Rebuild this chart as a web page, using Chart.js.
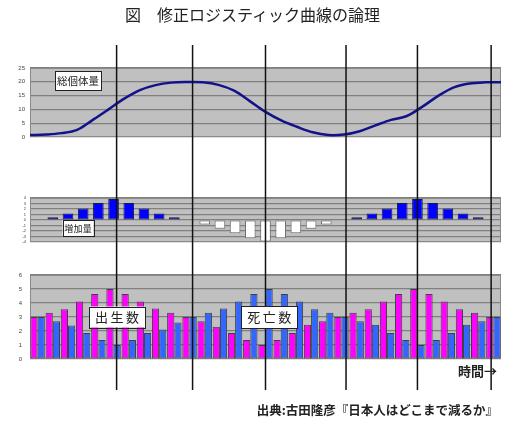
<!DOCTYPE html>
<html lang="ja">
<head>
<meta charset="utf-8">
<title>修正ロジスティック曲線の論理</title>
<script src="https://cdn.jsdelivr.net/npm/chart.js@4.4.1/dist/chart.umd.min.js"></script>
<style>
  html, body { margin: 0; padding: 0; background: #fff; }
  #wrap { position: relative; width: 505px; height: 421px; font-family: "Noto Sans CJK JP", sans-serif; color: #222; }
  canvas { position: absolute; left: 0; }
  #cTop { top: 0; }
  #cMid { top: 167px; }
  #cBot { top: 258px; }
  .txt { position: absolute; white-space: nowrap; }
  #title { left: 0; width: 505px; top: 4px; text-align: center; font-size: 16px; line-height: 20px; }
  #time { right: 8px; top: 363px; font-size: 13px; font-weight: bold; line-height: 16px; }
  #source { right: 7px; top: 402px; font-size: 12.5px; font-weight: bold; line-height: 16px; }
</style>
</head>
<body>
<div id="wrap">
  <canvas id="cTop" width="505" height="167"></canvas>
  <canvas id="cMid" width="505" height="91"></canvas>
  <canvas id="cBot" width="505" height="163"></canvas>
  <div id="title" class="txt">図　修正ロジスティック曲線の論理</div>
  <div id="time" class="txt">時間→</div>
  <div id="source" class="txt">出典:古田隆彦『日本人はどこまで減るか』</div>
</div>
<script>
// time steps along the horizontal axis
const periods = ['1', '2', '3', '4', '5', '6', '7', '8', '9', '10', '11', '12', '13', '14', '15', '16',
  '17', '18', '19', '20', '21', '22', '23', '24', '25', '26', '27', '28', '29', '30', '31'];

// 総個体量 (top panel)
const totalPopulation = [0.7, 0.9, 1.4, 2.6, 6.2, 10.0, 13.9, 17.0, 18.8, 19.7, 19.9, 19.8, 18.9, 16.8, 13.0, 9.1,
  6.0, 3.7, 1.7, 0.7, 0.9, 2.1, 4.2, 6.2, 7.6, 11.0, 14.9, 18.0, 19.4, 19.8, 19.8];

// 増加量 (middle panel)
const increase = [null, 0.5, 1.2, 2.1, 3.1, 3.8, 3.1, 2.1, 1.2, 0.5, null, -0.8, -1.6, -2.4, -3.3, -3.9,
  -3.3, -2.4, -1.6, -0.8, null, 0.5, 1.2, 2.1, 3.1, 3.8, 3.1, 2.1, 1.2, 0.5, null];

// 出生数 / 死亡数 (bottom panel)
const births = [3.0, 3.3, 3.55, 4.1, 4.65, 5.0, 4.65, 4.1, 3.6, 3.3, 3.0, 2.7, 2.3, 1.85, 1.35, 1.0,
  1.35, 1.85, 2.45, 2.7, 3.0, 3.3, 3.55, 4.1, 4.65, 5.0, 4.65, 4.1, 3.55, 3.3, 3.0];
const deaths = [3.0, 2.7, 2.4, 1.85, 1.35, 1.0, 1.35, 1.85, 2.1, 2.6, 3.0, 3.3, 3.6, 4.1, 4.65, 5.0,
  4.65, 4.1, 3.55, 3.3, 3.0, 2.7, 2.45, 1.85, 1.35, 1.0, 1.35, 1.85, 2.45, 2.7, 3.0];

// vertical phase lines (position on the period axis)
const phaseMarks = [5.2, 10.2, 15, 20.3, 25, 29.85];

const sideWidth = 30;
function fixWidth(scale) {
  scale.width = sideWidth;
}

const gridStyle = { color: '#808080', lineWidth: 1.2, drawTicks: false };

function valueAxis(min, max, step, fontSize, pad) {
  return {
    position: 'left', min: min, max: max,
    ticks: { stepSize: step, autoSkip: false, font: { family: 'Liberation Sans', size: fontSize }, color: '#444', padding: pad },
    grid: gridStyle,
    border: { display: false },
    afterFit: fixWidth
  };
}

// gray plot area, phase lines and boxed labels for one panel
function panelPlugin(cfg) {
  return {
    id: 'panel',
    beforeDraw(chart) {
      const { ctx, chartArea: a } = chart;
      ctx.save();
      ctx.fillStyle = '#c0c0c0';
      ctx.fillRect(a.left, a.top, a.right - a.left, a.bottom - a.top);
      ctx.restore();
    },
    beforeDatasetsDraw(chart) {
      const { ctx, chartArea: a } = chart;
      ctx.save();
      ctx.strokeStyle = '#8a8a8a';
      ctx.lineWidth = 1;
      ctx.strokeRect(a.left + 0.5, a.top + 0.5, a.right - a.left - 1, a.bottom - a.top - 1);
      ctx.restore();
    },
    afterDatasetsDraw(chart) {
      const { ctx, chartArea: a } = chart;
      const xs = chart.scales.x;
      const y0 = cfg.lineAbove == null ? 0 : a.top - cfg.lineAbove;
      const y1 = cfg.lineBelow == null ? chart.height : a.bottom + cfg.lineBelow;
      ctx.save();
      ctx.strokeStyle = '#111';
      ctx.lineWidth = 1.5;
      phaseMarks.forEach(m => {
        const px = xs.getPixelForValue(m);
        ctx.beginPath();
        ctx.moveTo(px, y0);
        ctx.lineTo(px, y1);
        ctx.stroke();
      });
      ctx.restore();
    },
    afterDraw(chart) {
      const { ctx } = chart;
      const xs = chart.scales.x;
      const ys = chart.scales.y;
      ctx.save();
      cfg.labels.forEach(lb => {
        const cx = xs.getPixelForValue(lb.x);
        const cy = ys.getPixelForValue(lb.y);
        ctx.fillStyle = '#fff';
        ctx.fillRect(cx - lb.w / 2, cy - lb.h / 2, lb.w, lb.h);
        ctx.strokeStyle = '#222';
        ctx.lineWidth = 1;
        ctx.strokeRect(Math.round(cx - lb.w / 2) + 0.5, Math.round(cy - lb.h / 2) + 0.5, lb.w, lb.h);
        ctx.fillStyle = '#222';
        ctx.font = lb.size + 'px "Noto Sans CJK JP"';
        ctx.textAlign = 'center';
        ctx.textBaseline = 'middle';
        const chars = Array.from(lb.text);
        chars.forEach((c, i) => {
          ctx.fillText(c, cx + (i - (chars.length - 1) / 2) * lb.step, cy + 0.5);
        });
      });
      ctx.restore();
    }
  };
}

function makePanel(canvasId, cfg) {
  return new Chart(document.getElementById(canvasId), {
    type: 'bar',
    data: { labels: periods, datasets: cfg.datasets },
    options: {
      responsive: false,
      animation: false,
      devicePixelRatio: 1,
      layout: { padding: cfg.padding },
      plugins: { legend: { display: false }, tooltip: { enabled: false } },
      scales: Object.assign({
        x: { type: 'category', offset: true, display: false },
        y: cfg.y
      }, cfg.extraScales || {})
    },
    plugins: [panelPlugin(cfg)]
  });
}

// top: 総個体量
makePanel('cTop', {
  padding: { top: 68, bottom: 30, left: 0, right: 4 },
  lineAbove: 23,
  lineBelow: null,
  y: valueAxis(0, 25, 5, 6, 5),
  extraScales: {
    xLine: { type: 'linear', axis: 'x', position: 'bottom', min: 0, max: 30, offset: false, display: false }
  },
  datasets: [{
    type: 'line',
    label: '総個体量',
    data: totalPopulation.map((v, i) => ({ x: i, y: v })),
    xAxisID: 'xLine',
    borderColor: '#12128a',
    borderWidth: 2.5,
    pointRadius: 0,
    tension: 0.35,
    fill: false
  }],
  labels: [{ text: '総個体量', x: 2.66, y: 20.3, w: 46, h: 19, size: 10.5, step: 10.5 }]
});

// middle: 増加量
makePanel('cMid', {
  padding: { top: 31, bottom: 16, left: 0, right: 4 },
  lineAbove: null,
  lineBelow: null,
  y: valueAxis(-4, 4, 1, 4, 4),
  datasets: [{
    label: '増加量',
    data: increase,
    barPercentage: 0.7,
    categoryPercentage: 1,
    backgroundColor: increase.map(v => v > 0 ? '#0000ff' : '#ffffff'),
    borderColor: increase.map(v => v > 0 ? '#1a1a4a' : '#707070'),
    borderWidth: 1,
    borderSkipped: false
  }],
  labels: [{ text: '増加量', x: 2.66, y: -1.45, w: 31, h: 16, size: 9, step: 9.3 }]
});

// bottom: 出生数 / 死亡数
makePanel('cBot', {
  padding: { top: 17, bottom: 62, left: 0, right: 4 },
  lineAbove: null,
  lineBelow: 31,
  y: valueAxis(0, 6, 1, 6, 8),
  datasets: [
    {
      label: '出生数',
      data: births,
      backgroundColor: '#ff00ff',
      borderColor: '#404040',
      borderWidth: 1,
      borderSkipped: false,
      categoryPercentage: 0.95,
      barPercentage: 1
    },
    {
      label: '死亡数',
      data: deaths,
      backgroundColor: '#3366ff',
      borderColor: '#404040',
      borderWidth: 1,
      borderSkipped: false,
      categoryPercentage: 0.95,
      barPercentage: 1
    }
  ],
  labels: [
    { text: '出生数', x: 5.23, y: 3.0, w: 56, h: 21, size: 13, step: 15.5 },
    { text: '死亡数', x: 15.25, y: 3.0, w: 56, h: 22, size: 13, step: 15.5 }
  ]
});
</script>
</body>
</html>
